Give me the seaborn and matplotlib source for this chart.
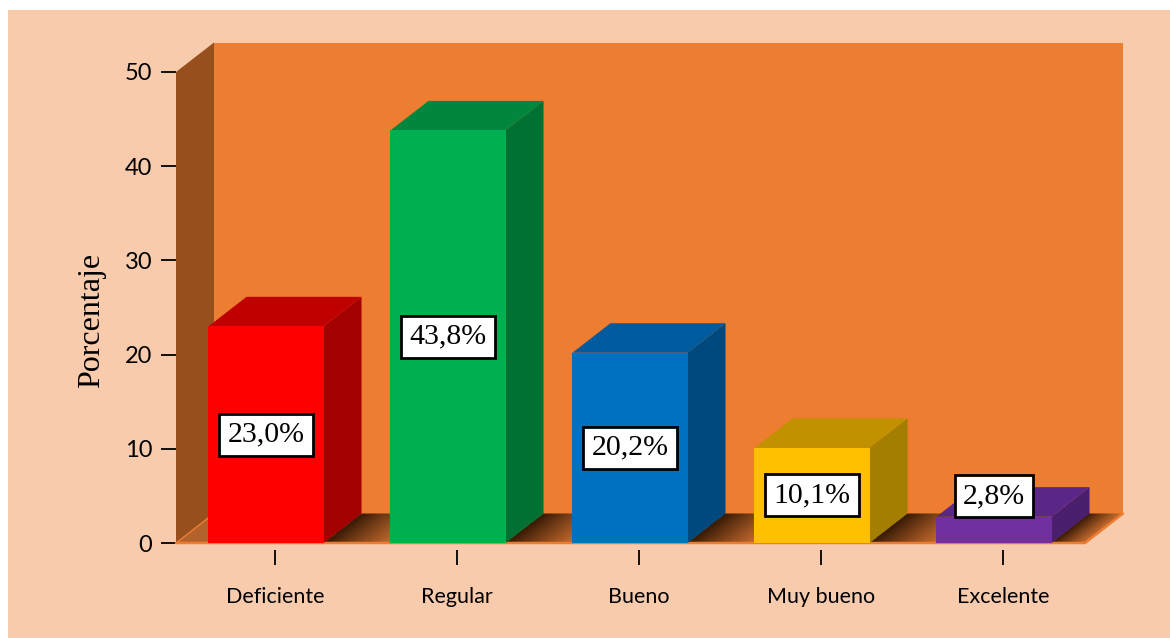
import numpy as np
import matplotlib
matplotlib.use("Agg")
import matplotlib.pyplot as plt
import seaborn as sns
import pandas as pd
from matplotlib.patches import Polygon, Rectangle
from matplotlib.colors import to_rgb

categories = ["Deficiente", "Regular", "Bueno", "Muy bueno", "Excelente"]
values = [23.0, 43.8, 20.2, 10.1, 2.8]
labels = ["23,0%", "43,8%", "20,2%", "10,1%", "2,8%"]
front_colors = ["#FF0000", "#00B050", "#0070C0", "#FFC000", "#7030A0"]
top_colors = ["#C00000", "#00873D", "#005A9E", "#C29100", "#5A2687"]
side_colors = ["#A30000", "#007033", "#00497F", "#A47E00", "#4A1F6E"]
yticks = [0, 10, 20, 30, 40, 50]
y_label = "Porcentaje"

sns.set_theme(style="white")
plt.rcParams['font.family'] = ['Lato', 'DejaVu Sans']

W, H = 1170, 638
fig = plt.figure(figsize=(W / 100, H / 100), dpi=100)
fig.patch.set_facecolor("white")
fig.patches.append(Rectangle((8 / W, 0), 1 - 8 / W, 1 - 10 / H, transform=fig.transFigure,
                             facecolor="#F8CBAD", edgecolor="none", zorder=-10))

ax = fig.add_axes([176 / W, 1 - 543 / H, (1123 - 176) / W, (543 - 38) / H])
ax.set_facecolor("none")

df = pd.DataFrame({"cat": categories, "val": values})
sns.barplot(data=df, x="cat", y="val", hue="cat", palette=front_colors, width=0.632,
            saturation=1, legend=False, ax=ax, linewidth=0, zorder=3)

x0 = (176 - 266) / 182
x1 = (1085 - 266) / 182
dx = 38 / 182
ppu = (543 - 72) / 50
dy = 29.5 / ppu
ymax = 50

bar_patches = sorted([p for p in ax.patches if p.get_zorder() == 3], key=lambda p: p.get_x())

# back wall and left wall
ax.add_patch(Rectangle((x0 + dx, dy), x1 - x0, ymax, facecolor="#ED7D31", edgecolor="none", zorder=0.5))
ax.add_patch(Polygon([(x0, 0), (x0, ymax), (x0 + dx, ymax + dy), (x0 + dx, dy)], closed=True,
                     facecolor="#974F1E", edgecolor="none", zorder=0.6))

lefts = [p.get_x() for p in bar_patches]
rights = [p.get_x() + p.get_width() for p in bar_patches]

# floor with shadows
nx, ny = 1400, 60
xs = np.linspace(x0, x1 + dx, nx)
ys = np.linspace(0, dy, ny)
X, Y = np.meshgrid(xs, ys)
U = X - Y / dy * dx
img = np.zeros((ny, nx, 3))
img[:] = to_rgb("#B3622C")
dark = np.array(to_rgb("#341804"))
light = np.array(to_rgb("#C66B2E"))
for i in range(len(bar_patches)):
    start = rights[i]
    end = lefts[i + 1] if i < len(bar_patches) - 1 else x1
    m = (U >= start) & (U < end)
    t = np.clip((U[m] - start) / (end - start), 0, 1)
    img[m] = dark + (light - dark) * (t[:, None] ** 0.9)
floor_poly = Polygon([(x0, 0), (x1, 0), (x1 + dx, dy), (x0 + dx, dy)], closed=True,
                     transform=ax.transData, facecolor="none", edgecolor="none")
ax.add_patch(floor_poly)
im = ax.imshow(img, origin="lower", extent=[x0, x1 + dx, 0, dy], aspect="auto",
               interpolation="bilinear", zorder=1)
im.set_clip_path(floor_poly)

ax.plot([x0, x1, x1 + dx], [0, 0, dy], color="#ED7D31", lw=1.8, zorder=2.5, clip_on=False,
        solid_joinstyle="miter")
ax.plot([x0, x0 + dx], [0, dy], color="#ED7D31", lw=1.0, zorder=1.5)

# 3D faces of bars
for i, p in enumerate(bar_patches):
    L = p.get_x()
    R = L + p.get_width()
    v = p.get_height()
    ax.add_patch(Polygon([(R, 0), (R + dx, dy), (R + dx, v + dy), (R, v)], closed=True,
                         facecolor=side_colors[i], edgecolor="none", zorder=2.9))
    ax.add_patch(Polygon([(L, v), (R, v), (R + dx, v + dy), (L + dx, v + dy)], closed=True,
                         facecolor=top_colors[i], edgecolor="none", zorder=2.9))
    ax.text((L + R) / 2, max(v / 2, 5.0), labels[i], ha="center", va="center",
            fontfamily="Liberation Serif", fontsize=21.5, color="black", zorder=6,
            bbox=dict(boxstyle="square,pad=0.27", facecolor="white", edgecolor="black", lw=2))

ax.set_xlim(x0, (1123 - 266) / 182)
ax.set_ylim(0, (543 - 38) / ppu)

for s in ax.spines.values():
    s.set_visible(False)
ax.spines['bottom'].set_position(('outward', 5))

ax.set_xticks(np.arange(len(categories)) + 0.05)
ax.set_xticklabels(categories)
ax.set_yticks(yticks)
ax.set_yticklabels([str(t) for t in yticks])
ax.tick_params(axis="x", bottom=True, length=11, width=1.3, color="black", pad=16,
               labelsize=15.5, labelcolor="black")
ax.tick_params(axis="y", left=True, length=11, width=1.3, color="black", pad=6,
               labelsize=17, labelcolor="black")
ax.set_xlabel("")
ax.set_ylabel(y_label, fontfamily="Liberation Serif", fontsize=23, color="black")
ax.yaxis.set_label_coords(-0.074, 0.4416)

fig.savefig("out.png", dpi=100, facecolor=fig.get_facecolor())
